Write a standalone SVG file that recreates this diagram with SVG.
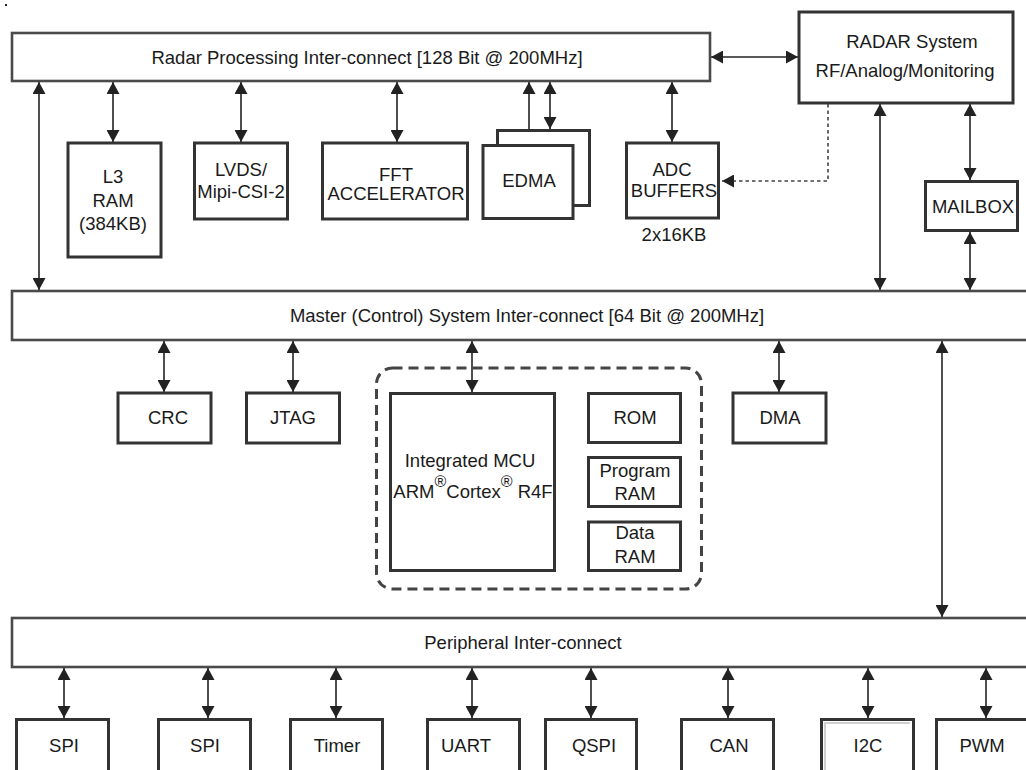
<svg xmlns="http://www.w3.org/2000/svg" width="1026" height="770" viewBox="0 0 1026 770">
<style>
  .bar{fill:#fff;stroke:#4a4a4a;stroke-width:2.6}
  .box{fill:#fff;stroke:#333;stroke-width:3}
  .t{font-family:"Liberation Sans",Arial,sans-serif;font-size:18.5px;fill:#1a1a1a;text-anchor:middle}
  .r{font-size:16px}
  .c{fill:none;stroke:#222;stroke-width:1.6}
  .d{fill:none;stroke:#444;stroke-width:1.6;stroke-dasharray:3.5,3}
</style>
<defs>
  <marker id="ah" markerUnits="userSpaceOnUse" markerWidth="12" markerHeight="13" refX="12" refY="6.5" orient="auto-start-reverse">
    <path d="M0,0 L12,6.5 L0,13 z" fill="#222"/>
  </marker>
</defs>
<rect width="1026" height="770" fill="#fff"/>
<rect x="5" y="4" width="2" height="2" fill="#222"/>

<g id="connectors">
  <line class="c" x1="39" y1="82" x2="39" y2="290" marker-start="url(#ah)" marker-end="url(#ah)"/>
  <line class="c" x1="113" y1="82" x2="113" y2="142" marker-start="url(#ah)" marker-end="url(#ah)"/>
  <line class="c" x1="241" y1="82" x2="241" y2="142" marker-start="url(#ah)" marker-end="url(#ah)"/>
  <line class="c" x1="397" y1="82" x2="397" y2="142" marker-start="url(#ah)" marker-end="url(#ah)"/>
  <line class="c" x1="529" y1="82" x2="529" y2="144" marker-start="url(#ah)" marker-end="url(#ah)"/>
  <line class="c" x1="550" y1="82" x2="550" y2="129" marker-start="url(#ah)" marker-end="url(#ah)"/>
  <line class="c" x1="672" y1="82" x2="672" y2="142" marker-start="url(#ah)" marker-end="url(#ah)"/>
  <line class="c" x1="711" y1="57" x2="798" y2="57" marker-start="url(#ah)" marker-end="url(#ah)"/>
  <line class="c" x1="880" y1="104" x2="880" y2="290" marker-start="url(#ah)" marker-end="url(#ah)"/>
  <line class="c" x1="970" y1="104" x2="970" y2="180" marker-start="url(#ah)" marker-end="url(#ah)"/>
  <line class="c" x1="970" y1="232" x2="970" y2="290" marker-start="url(#ah)" marker-end="url(#ah)"/>
  <path class="d" d="M828,104 V181 H722" marker-end="url(#ah)"/>
  <line class="c" x1="164" y1="341" x2="164" y2="392" marker-start="url(#ah)" marker-end="url(#ah)"/>
  <line class="c" x1="293" y1="341" x2="293" y2="392" marker-start="url(#ah)" marker-end="url(#ah)"/>
  <line class="c" x1="472" y1="341" x2="472" y2="392" marker-start="url(#ah)" marker-end="url(#ah)"/>
  <line class="c" x1="779" y1="341" x2="779" y2="392" marker-start="url(#ah)" marker-end="url(#ah)"/>
  <line class="c" x1="942" y1="341" x2="942" y2="617" marker-start="url(#ah)" marker-end="url(#ah)"/>
  <line class="c" x1="64" y1="668" x2="64" y2="718" marker-start="url(#ah)" marker-end="url(#ah)"/>
  <line class="c" x1="208" y1="668" x2="208" y2="718" marker-start="url(#ah)" marker-end="url(#ah)"/>
  <line class="c" x1="336" y1="668" x2="336" y2="718" marker-start="url(#ah)" marker-end="url(#ah)"/>
  <line class="c" x1="472" y1="668" x2="472" y2="718" marker-start="url(#ah)" marker-end="url(#ah)"/>
  <line class="c" x1="591" y1="668" x2="591" y2="718" marker-start="url(#ah)" marker-end="url(#ah)"/>
  <line class="c" x1="728" y1="668" x2="728" y2="718" marker-start="url(#ah)" marker-end="url(#ah)"/>
  <line class="c" x1="868" y1="668" x2="868" y2="718" marker-start="url(#ah)" marker-end="url(#ah)"/>
  <line class="c" x1="986" y1="668" x2="986" y2="718" marker-start="url(#ah)" marker-end="url(#ah)"/>
</g>

<g id="radar-bus">
  <rect class="bar" x="12" y="33" width="698" height="48"/>
  <text class="t" x="367" y="64">Radar Processing Inter-connect [128 Bit @ 200MHz]</text>
</g>
<g id="radar-system">
  <rect class="box" x="799" y="12" width="214" height="91"/>
  <text class="t" x="912" y="48">RADAR System</text>
  <text class="t" x="905" y="77">RF/Analog/Monitoring</text>
</g>
<g id="l3-ram">
  <rect class="box" x="68" y="143" width="93" height="114"/>
  <text class="t" x="113" y="183">L3</text>
  <text class="t" x="113" y="207">RAM</text>
  <text class="t" x="113" y="230">(384KB)</text>
</g>
<g id="lvds">
  <rect class="box" x="194.5" y="143" width="93" height="76"/>
  <text class="t" x="241" y="176">LVDS/</text>
  <text class="t" x="241" y="198">Mipi-CSI-2</text>
</g>
<g id="fft">
  <rect class="box" x="322.5" y="143" width="145" height="76"/>
  <text class="t" x="396" y="181">FFT</text>
  <text class="t" x="396" y="200">ACCELERATOR</text>
</g>
<g id="edma">
  <rect class="box" x="497.5" y="130.5" width="92" height="75"/>
  <rect class="box" x="483" y="145.5" width="90" height="73"/>
  <text class="t" x="529" y="187">EDMA</text>
</g>
<g id="adc-buffers">
  <rect class="box" x="626.5" y="143" width="92" height="75"/>
  <text class="t" x="672" y="176">ADC</text>
  <text class="t" x="674" y="197">BUFFERS</text>
  <text class="t" x="674" y="241">2x16KB</text>
</g>
<g id="mailbox">
  <rect class="box" x="925.5" y="181.5" width="92" height="49"/>
  <text class="t" x="973" y="213">MAILBOX</text>
</g>

<g id="master-bus">
  <rect class="bar" x="12" y="291" width="1030" height="49"/>
  <text class="t" x="527" y="322">Master (Control) System Inter-connect [64 Bit @ 200MHz]</text>
</g>
<g id="crc">
  <rect class="box" x="118" y="393" width="93" height="50"/>
  <text class="t" x="168" y="424">CRC</text>
</g>
<g id="jtag">
  <rect class="box" x="246.5" y="393" width="93" height="50"/>
  <text class="t" x="293" y="424">JTAG</text>
</g>
<g id="mcu-subsystem">
  <rect x="376.5" y="368" width="325" height="221" rx="16" fill="none" stroke="#444" stroke-width="3" stroke-dasharray="10,6"/>
</g>
<g id="mcu">
  <rect class="box" x="390.5" y="393.5" width="164" height="177"/>
  <text class="t" x="470" y="467">Integrated MCU</text>
  <text class="t" x="473" y="498">ARM<tspan class="r" dy="-11">®</tspan><tspan dy="11">Cortex</tspan><tspan class="r" dy="-11">®</tspan><tspan dy="11"> R4F</tspan></text>
</g>
<g id="rom">
  <rect class="box" x="588.5" y="393.5" width="92" height="49"/>
  <text class="t" x="635" y="424">ROM</text>
</g>
<g id="program-ram">
  <rect class="box" x="588.5" y="457.5" width="92" height="49"/>
  <text class="t" x="635" y="477">Program</text>
  <text class="t" x="635" y="500">RAM</text>
</g>
<g id="data-ram">
  <rect class="box" x="588.5" y="522" width="92" height="48.5"/>
  <text class="t" x="635" y="539">Data</text>
  <text class="t" x="635" y="563">RAM</text>
</g>
<g id="dma">
  <rect class="box" x="733" y="393" width="93" height="50"/>
  <text class="t" x="780" y="424">DMA</text>
</g>

<g id="peripheral-bus">
  <rect class="bar" x="12" y="618" width="1030" height="49"/>
  <text class="t" x="523" y="649">Peripheral Inter-connect</text>
</g>
<g id="spi1">
  <rect class="box" x="16.5" y="719.5" width="92" height="60"/>
  <text class="t" x="64" y="752">SPI</text>
</g>
<g id="spi2">
  <rect class="box" x="158.5" y="719.5" width="92" height="60"/>
  <text class="t" x="205" y="752">SPI</text>
</g>
<g id="timer">
  <rect class="box" x="290.5" y="719.5" width="92" height="60"/>
  <text class="t" x="337" y="752">Timer</text>
</g>
<g id="uart">
  <rect class="box" x="427.5" y="719.5" width="92" height="60"/>
  <text class="t" x="466" y="752">UART</text>
</g>
<g id="qspi">
  <rect class="box" x="545.5" y="719.5" width="91" height="60"/>
  <text class="t" x="594" y="752">QSPI</text>
</g>
<g id="can">
  <rect class="box" x="681.5" y="719.5" width="92" height="60"/>
  <text class="t" x="729" y="752">CAN</text>
</g>
<g id="i2c">
  <rect class="box" x="821.5" y="719.5" width="92" height="60"/>
  <path d="M825,780 V723 H910" fill="none" stroke="#d0d0d0" stroke-width="2"/>
  <text class="t" x="868" y="752">I2C</text>
</g>
<g id="pwm">
  <rect class="box" x="936.5" y="719.5" width="100" height="60"/>
  <text class="t" x="982" y="752">PWM</text>
</g>
</svg>
